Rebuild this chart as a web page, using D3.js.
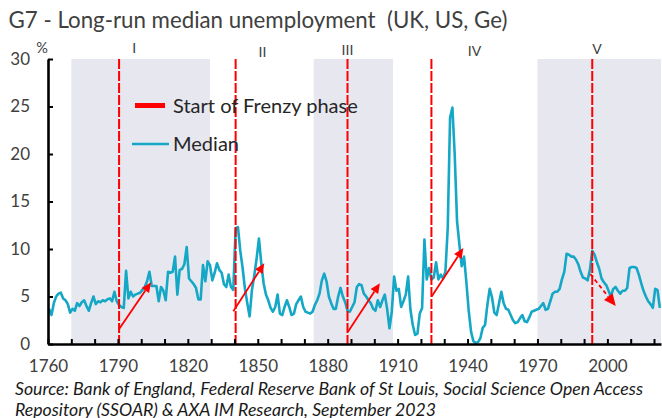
<!DOCTYPE html>
<html>
<head>
<meta charset="utf-8">
<script src="https://cdn.jsdelivr.net/npm/d3@7"></script>
<style>
  body { margin: 0; background: #fff; }
  svg { display: block; font-family: Lato, "Open Sans", sans-serif; }
</style>
</head>
<body>
<div id="chart"></div>
<script>
// G7 long-run median unemployment (UK, US, Ge), yearly, %
const FIRST_YEAR = 1760;
const median = [
  3.7, 3.05, 4.3, 5.0, 5.3, 5.4, 4.8, 4.6, 4.2, 3.3,    // 1760s
  3.7, 3.5, 4.3, 4.0, 4.4, 4.6, 4.0, 3.5, 4.3, 5.0,     // 1770s
  4.2, 4.5, 4.4, 4.6, 4.5, 4.7, 4.8, 4.5, 5.5, 4.5,     // 1780s
  4.1, 3.9, 3.8, 7.7, 4.8, 5.5, 5.0, 5.2, 5.3, 5.4,     // 1790s
  5.7, 6.0, 6.6, 7.6, 6.1, 6.1, 6.1, 4.5, 6.0, 5.6,     // 1800s
  4.6, 7.6, 7.5, 7.6, 9.2, 5.2, 7.8, 7.9, 8.4, 10.2,    // 1810s
  6.9, 6.6, 6.3, 5.9, 4.7, 4.7, 8.3, 6.6, 8.7, 8.3,     // 1820s
  6.7, 7.5, 8.5, 7.8, 7.5, 6.3, 6.0, 7.3, 6.0, 5.7,     // 1830s
  12.2, 12.3, 9.8, 8.0, 5.8, 4.3, 2.9, 5.7, 7.2, 9.0,   // 1840s
  11.1, 8.5, 6.4, 5.2, 4.6, 3.8, 3.4, 3.9, 5.2, 3.2,    // 1850s
  3.05, 3.9, 4.6, 3.9, 3.05, 3.2, 4.2, 4.6, 5.0, 3.9,   // 1860s
  3.4, 3.3, 3.2, 3.4, 4.1, 4.6, 5.3, 6.7, 7.4, 6.6,     // 1870s
  5.0, 4.3, 3.7, 3.7, 5.0, 5.9, 5.0, 4.4, 3.5, 3.4,     // 1880s
  3.9, 4.4, 6.0, 6.3, 6.2, 5.3, 5.0, 4.6, 4.3, 3.7,     // 1890s
  3.5, 4.6, 3.9, 4.6, 5.2, 3.7, 1.65, 3.4, 7.1, 5.6,    // 1900s
  5.8, 3.9, 4.5, 5.2, 7.1, 3.6, 2.0, 0.95, 1.1, 3.2,    // 1910s
  3.8, 11.0, 6.8, 8.0, 6.8, 7.0, 8.6, 6.8, 7.3, 6.9,    // 1920s
  7.6, 12.2, 23.8, 24.9, 19.9, 12.9, 10.5, 8.2, 9.2, 6.5, // 1930s
  3.5, 1.3, 0.3, 0.1, 0.2, 0.6, 1.7, 2.0, 4.1, 5.8,     // 1940s
  4.9, 3.3, 3.05, 4.3, 5.5, 4.3, 3.7, 3.6, 3.05, 2.5,   // 1950s
  2.2, 2.3, 2.7, 3.05, 2.4, 2.3, 2.8, 3.4, 3.5, 3.6,    // 1960s
  3.7, 4.0, 4.3, 3.6, 3.7, 4.5, 5.3, 5.5, 5.5, 5.8,     // 1970s
  6.8, 7.6, 9.5, 9.4, 9.2, 9.2, 8.9, 8.4, 7.6, 7.0,     // 1980s
  6.9, 6.7, 7.8, 9.8, 9.4, 8.6, 7.9, 6.9, 6.5, 6.2,     // 1990s
  5.6, 5.0, 5.8, 6.0, 5.6, 5.3, 5.6, 5.6, 5.9, 8.0,     // 2000s
  8.1, 8.1, 8.0, 7.3, 6.4, 5.6, 5.0, 4.5, 4.2, 3.8,     // 2010s
  5.8, 5.7, 3.8                                         // 2020s
];

// start of each Frenzy phase
const frenzyYears = [1790, 1840, 1888, 1924, 1993];
// technological revolutions I..V: label and where it sits (year)
const phaseNames = ["I", "II", "III", "IV", "V"];
const phaseLabelYear = [1797, 1852, 1888.5, 1943, 1995.5];
// shaded surges
const shadeFrom = [1770, 1874, 1970];
const shadeTo   = [1829.5, 1908, 2023];
// arrows [year, %] -> [year, %]
const arrowFrom = [[1790.3, 1.5], [1839.5, 3.45], [1888.7, 1.3], [1924.6, 5.0], [1992.7, 7.35]];
const arrowTo   = [[1804.2, 6.5], [1852.8, 8.5], [1902.4, 6.4], [1938.2, 10.1], [2003.6, 4.0]];
const arrowDashed = [false, false, false, false, true];

const yTicks = [0, 5, 10, 15, 20, 25, 30];
const xTicks = d3.range(1760, 2021, 10);
const xTickLabels = [1760, 1790, 1820, 1850, 1880, 1910, 1940, 1970, 2000];

const TITLE = "G7 - Long-run median unemployment\u00a0\u00a0(UK, US, Ge)";
const SOURCE = [
  "Source: Bank of England, Federal Reserve Bank of St Louis, Social Science Open Access",
  "Repository (SSOAR) & AXA IM Research, September 2023"
];

const W = 662, H = 418;
const plot = { left: 48, right: 661, top: 59, bottom: 344 };
const TEAL = "#14a7c6", RED = "#ff0000", TXT = "#404040";

const svg = d3.select("#chart").append("svg").attr("width", W).attr("height", H);

const x = d3.scaleLinear().domain([FIRST_YEAR, 2023]).range([plot.left, plot.right]);
const y = d3.scaleLinear().domain([0, 30]).range([plot.bottom, plot.top]);

// make a text fit a given width (Calibri in the original is narrow)
function fitWidth(sel, target) {
  const w = sel.node().getComputedTextLength();
  const fs = parseFloat(sel.attr("font-size"));
  const nf = fs * target / w;
  sel.attr("font-size", nf.toFixed(2));
  return nf;
}

// ---- shaded periods ----
svg.append("g").selectAll("rect")
  .data(shadeFrom.map((d, i) => [d, shadeTo[i]]))
  .join("rect")
  .attr("x", d => x(d[0]))
  .attr("width", d => x(d[1]) - x(d[0]))
  .attr("y", y(30))
  .attr("height", y(0) - y(30))
  .attr("fill", "#e7e7f0");

// ---- median line ----
const series = median.map((v, i) => ({ year: FIRST_YEAR + i, v }));
svg.append("path")
  .datum(series)
  .attr("fill", "none")
  .attr("stroke", TEAL)
  .attr("stroke-width", 2.6)
  .attr("stroke-linejoin", "round")
  .attr("d", d3.line().x(d => x(d.year + 0.5)).y(d => y(d.v)));

// ---- frenzy lines ----
svg.append("g").selectAll("line")
  .data(frenzyYears)
  .join("line")
  .attr("x1", d => x(d + 0.5)).attr("x2", d => x(d + 0.5))
  .attr("y1", y(30)).attr("y2", y(0))
  .attr("stroke", RED)
  .attr("stroke-width", 2)
  .attr("stroke-dasharray", "10,2");

// ---- arrows ----
const gArr = svg.append("g");
arrowFrom.forEach((a, i) => {
  const x1 = x(a[0]), y1 = y(a[1]);
  const x2 = x(arrowTo[i][0]), y2 = y(arrowTo[i][1]);
  const ang = Math.atan2(y2 - y1, x2 - x1);
  const hl = arrowDashed[i] ? 12 : 10, hw = arrowDashed[i] ? 5.5 : 4.5;
  const bx = x2 - hl * Math.cos(ang), by = y2 - hl * Math.sin(ang);
  gArr.append("line")
    .attr("x1", x1).attr("y1", y1).attr("x2", bx).attr("y2", by)
    .attr("stroke", RED).attr("stroke-width", 1.8)
    .attr("stroke-dasharray", arrowDashed[i] ? "4,3" : null);
  const px = -Math.sin(ang), py = Math.cos(ang);
  gArr.append("path")
    .attr("d", `M${x2},${y2}L${bx + hw * px},${by + hw * py}L${bx - hw * px},${by - hw * py}Z`)
    .attr("fill", RED);
});

// ---- axes ----
const yAxis = svg.append("g")
  .attr("transform", `translate(${plot.left},0)`)
  .call(d3.axisLeft(y).tickValues(yTicks).tickSize(-5).tickSizeOuter(0).tickPadding(18));
const xAxis = svg.append("g")
  .attr("transform", `translate(0,${plot.bottom})`)
  .call(d3.axisBottom(x).tickValues(xTicks).tickSize(-5).tickSizeOuter(0).tickPadding(16)
    .tickFormat(d => String(d)));
// only every third decade carries a label
xAxis.selectAll(".tick text").filter(d => !xTickLabels.includes(d)).remove();

[yAxis, xAxis].forEach(g => {
  g.select(".domain").attr("stroke", "#000").attr("stroke-width", 2.6);
  g.selectAll(".tick line").attr("stroke", "#000").attr("stroke-width", 2);
  g.selectAll(".tick text")
    .attr("fill", TXT)
    .attr("font-size", 17)
    .attr("font-family", "Lato, sans-serif");
});

svg.append("text")
  .attr("x", 42).attr("y", 53)
  .attr("text-anchor", "middle")
  .attr("font-size", 14.5)
  .attr("fill", TXT)
  .text("%");

// ---- phase numerals ----
const numeralDy = [0, 4, 1.5, 2.5, 0.5];
svg.append("g").selectAll("text")
  .data(phaseNames)
  .join("text")
  .attr("x", (d, i) => x(phaseLabelYear[i]))
  .attr("y", (d, i) => plot.top - 6 + numeralDy[i])
  .attr("text-anchor", "middle")
  .attr("font-size", 14)
  .attr("fill", TXT)
  .text(d => d);

// ---- title ----
const title = svg.append("text")
  .attr("x", 8.5).attr("y", 27.5)
  .attr("font-size", 22)
  .attr("fill", TXT)
  .text(TITLE);
fitWidth(title, 499);

// ---- legend ----
const leg = svg.append("g");
leg.append("line")
  .attr("x1", 135).attr("x2", 165).attr("y1", 105.5).attr("y2", 105.5)
  .attr("stroke", RED).attr("stroke-width", 5);
leg.append("line")
  .attr("x1", 132).attr("x2", 169).attr("y1", 144).attr("y2", 144)
  .attr("stroke", TEAL).attr("stroke-width", 2.6);
const l1 = leg.append("text")
  .attr("x", 173).attr("y", 112.5)
  .attr("font-size", 19).attr("fill", "#262626")
  .text("Start of Frenzy phase");
const lfs = fitWidth(l1, 185);
leg.append("text")
  .attr("x", 173).attr("y", 150.5)
  .attr("font-size", lfs.toFixed(2)).attr("fill", "#262626")
  .text("Median");

// ---- source ----
const s1 = svg.append("text")
  .attr("x", 15).attr("y", 394.5)
  .attr("font-size", 15).attr("font-style", "italic").attr("fill", "#1a1a1a")
  .text(SOURCE[0]);
const sfs = fitWidth(s1, 628);
svg.append("text")
  .attr("x", 15).attr("y", 415.5)
  .attr("font-size", sfs.toFixed(2)).attr("font-style", "italic").attr("fill", "#1a1a1a")
  .text(SOURCE[1]);
</script>
</body>
</html>
